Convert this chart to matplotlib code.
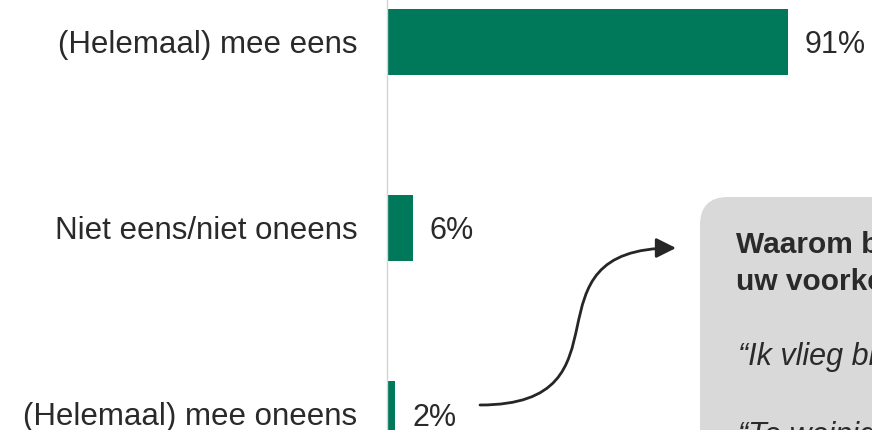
import matplotlib.pyplot as plt
from matplotlib.patches import FancyBboxPatch, FancyArrowPatch
from matplotlib.path import Path

plt.rcParams['font.family'] = ['Liberation Sans', 'DejaVu Sans']

# data
categorieen = ['(Helemaal) mee eens', 'Niet eens/niet oneens', '(Helemaal) mee oneens']
percentages = [91, 6, 2]
groen = '#00785a'
tekstkleur = '#2a2a2a'

fig = plt.figure(figsize=(8.72, 4.3), dpi=100)
ax = fig.add_axes([386.5 / 872, 0, 1 - 386.5 / 872, 1])

posities = list(range(len(categorieen)))
ax.barh(posities, percentages, height=0.35, color=groen)

ax.set_xlim(0, (872 - 386.5) / 4.407)
ax.set_ylim((430 - 42) / 186, -42 / 186)

ax.set_yticks(posities)
ax.set_yticklabels(categorieen, fontsize=22.5, color=tekstkleur)
ax.tick_params(axis='y', length=0, pad=21)
ax.set_xticks([])
for s in ['top', 'right', 'bottom']:
    ax.spines[s].set_visible(False)
ax.spines['left'].set_color('#d4d4d4')
ax.spines['left'].set_linewidth(1)

for p, v in zip(posities, percentages):
    ax.text(v + 3.8, p, f'{v}%', va='center_baseline', ha='left', fontsize=22, color=tekstkleur)

# overlay in pixels voor tekstvak en pijl
ov = fig.add_axes([0, 0, 1, 1], facecolor='none')
ov.set_xlim(0, 872)
ov.set_ylim(430, 0)
ov.axis('off')

box = FancyBboxPatch((700, 197), 260, 300,
                     boxstyle='round,pad=0,rounding_size=28',
                     facecolor='#d9d9d9', edgecolor='none', zorder=1)
ov.add_patch(box)

ov.text(736, 253, 'Waarom bent u het oneens met', fontsize=21.5, fontweight='bold',
        color=tekstkleur, va='baseline', ha='left', zorder=2)
ov.text(736, 290, 'uw voorkeur?', fontsize=21.5, fontweight='bold',
        color=tekstkleur, va='baseline', ha='left', zorder=2)
ov.text(738, 365, '\u201cIk vlieg bijna nooit via deze luchthaven\u201d', fontsize=22,
        style='italic', color=tekstkleur, va='baseline', ha='left', zorder=2)
ov.text(738, 444, '\u201cTe weinig bestemmingen\u201d', fontsize=22, style='italic',
        color=tekstkleur, va='baseline', ha='left', zorder=2)

# gebogen pijl
pad = Path([(480, 405), (640, 405), (515, 248), (676, 248)],
           [Path.MOVETO, Path.CURVE4, Path.CURVE4, Path.CURVE4])
pijl = FancyArrowPatch(path=pad, arrowstyle='-|>,head_length=12,head_width=6',
                       color='#262626', linewidth=2, zorder=3)
ov.add_patch(pijl)

fig.savefig('out.png', dpi=100)
